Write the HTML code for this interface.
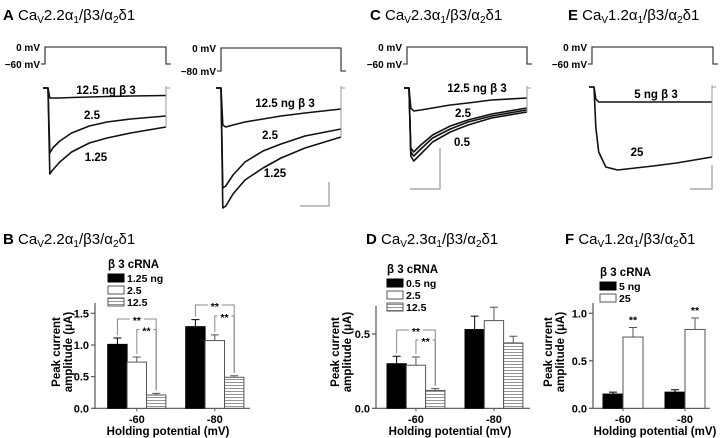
<!DOCTYPE html>
<html><head><meta charset="utf-8"><style>
html,body{margin:0;padding:0;background:#fff;}
svg{display:block;font-family:"Liberation Sans",Arial,sans-serif;}
.t{font-size:15px;fill:#000;}
.b{font-weight:bold;}
</style></head><body>
<svg id="fig" width="720" height="438" viewBox="0 0 720 438" xmlns="http://www.w3.org/2000/svg">
<defs>
<pattern id="stripes" width="4" height="3" patternUnits="userSpaceOnUse">
<rect width="4" height="3" fill="#fff"/><line x1="0" y1="1.5" x2="4" y2="1.5" stroke="#888" stroke-width="0.9"/>
</pattern>
</defs>
<text class="t" x="3" y="20"><tspan class="b">A</tspan>  Ca<tspan font-size="10" dy="3">V</tspan><tspan dy="-3">2.2α</tspan><tspan font-size="10" dy="3">1</tspan><tspan dy="-3">/β3/α</tspan><tspan font-size="10" dy="3">2</tspan><tspan dy="-3">δ1</tspan></text>
<text class="t" x="370" y="20"><tspan class="b">C</tspan>  Ca<tspan font-size="10" dy="3">V</tspan><tspan dy="-3">2.3α</tspan><tspan font-size="10" dy="3">1</tspan><tspan dy="-3">/β3/α</tspan><tspan font-size="10" dy="3">2</tspan><tspan dy="-3">δ1</tspan></text>
<text class="t" x="568" y="20"><tspan class="b">E</tspan>  Ca<tspan font-size="10" dy="3">V</tspan><tspan dy="-3">1.2α</tspan><tspan font-size="10" dy="3">1</tspan><tspan dy="-3">/β3/α</tspan><tspan font-size="10" dy="3">2</tspan><tspan dy="-3">δ1</tspan></text>
<text class="t" x="3" y="244"><tspan class="b">B</tspan>  Ca<tspan font-size="10" dy="3">V</tspan><tspan dy="-3">2.2α</tspan><tspan font-size="10" dy="3">1</tspan><tspan dy="-3">/β3/α</tspan><tspan font-size="10" dy="3">2</tspan><tspan dy="-3">δ1</tspan></text>
<text class="t" x="366" y="244"><tspan class="b">D</tspan>  Ca<tspan font-size="10" dy="3">V</tspan><tspan dy="-3">2.3α</tspan><tspan font-size="10" dy="3">1</tspan><tspan dy="-3">/β3/α</tspan><tspan font-size="10" dy="3">2</tspan><tspan dy="-3">δ1</tspan></text>
<text class="t" x="565" y="244"><tspan class="b">F</tspan>  Ca<tspan font-size="10" dy="3">V</tspan><tspan dy="-3">1.2α</tspan><tspan font-size="10" dy="3">1</tspan><tspan dy="-3">/β3/α</tspan><tspan font-size="10" dy="3">2</tspan><tspan dy="-3">δ1</tspan></text>
<g id="dyn"></g>
</svg>
<script>
// ---- Trace data (current amplitude below baseline, arbitrary units) ----
var traceTimes = [0, 0.015, 0.04, 0.1, 0.2, 0.35, 0.5, 0.7, 1];
var a1_12_5 = [0, 10, 10, 10, 9.5, 9, 8.5, 8, 7.5];
var a1_2_5 = [0, 65, 60, 53, 45, 38, 34, 31, 28];
var a1_1_25 = [0, 86, 82, 74, 64, 55, 50, 45, 39];
var a2_12_5 = [0, 37, 39, 37, 34, 31, 28, 25, 21];
var a2_2_5 = [0, 100, 98, 87, 74, 63, 56, 48, 41];
var a2_1_25 = [0, 120, 118, 106, 92, 80, 70, 60, 49];
var c_12_5 = [0, 20, 23, 22, 20, 17, 15, 12, 10];
var c_2_5 = [0, 60, 64, 57, 47, 38, 32, 26, 20];
var c_mid = [0, 64, 68, 61, 50, 41, 34, 28, 22];
var c_0_5 = [0, 68, 73, 66, 54, 44, 37, 30, 24];
var e_5 = [0, 12, 15, 15, 15, 15, 15, 15, 15];
var e_25 = [0, 40, 65, 80, 83, 81, 79, 76, 70];

// ---- Bar data ----
var groupLabels = ['-60', '-80'];
var bTicks = [0, 0.5, 1.0, 1.5];
var bS1 = [1.01, 1.29], bE1 = [0.10, 0.11];
var bS2 = [0.73, 1.07], bE2 = [0.08, 0.09];
var bS3 = [0.21, 0.49], bE3 = [0.025, 0.025];
var bLegend = ['1.25 ng', '2.5', '12.5'];
var dTicks = [0, 0.5];
var dS1 = [0.30, 0.53], dE1 = [0.05, 0.09];
var dS2 = [0.29, 0.59], dE2 = [0.055, 0.09];
var dS3 = [0.12, 0.44], dE3 = [0.012, 0.045];
var dLegend = ['0.5 ng', '2.5', '12.5'];
var fTicks = [0, 0.5, 1.0];
var fS1 = [0.15, 0.17], fE1 = [0.02, 0.025];
var fS2 = [0.75, 0.83], fE2 = [0.10, 0.12];
var fLegend = ['  5 ng', '25'];

var NS = 'http://www.w3.org/2000/svg';
var root = document.getElementById('dyn');
function mk(tag, attrs, parent) {
  var el = document.createElementNS(NS, tag);
  for (var k in attrs) el.setAttribute(k, attrs[k]);
  (parent || root).appendChild(el);
  return el;
}
function txt(s, x, y, size, anchor, bold, parent) {
  var t = mk('text', {x: x, y: y, 'font-size': size, 'text-anchor': anchor || 'start', 'font-weight': bold ? 'bold' : 'normal', 'xml:space': 'preserve'}, parent);
  t.textContent = s;
  return t;
}

function protocol(name, x0, x1, yTop, yBot, lowLabel) {
  var g = mk('g', {});
  
  
  mk('path', {d: 'M' + (x0 - 4) + ' ' + yBot + 'H' + x0 + 'V' + yTop + 'H' + x1 + 'V' + yBot + 'H' + (x1 + 5), fill: 'none', stroke: '#444', 'stroke-width': 1.3}, g);
  txt('0 mV', x0 - 5, yTop + 4, 10, 'end', true, g);
  txt(lowLabel, x0 - 5, yBot + 4, 10, 'end', true, g);
}
protocol('voltage-protocol-a1', 45, 166, 47, 64, '\u221260 mV');
protocol('voltage-protocol-a2', 221, 341, 48, 71, '\u221280 mV');
protocol('voltage-protocol-c', 407, 527, 47, 64, '\u221260 mV');
protocol('voltage-protocol-e', 592, 713, 47, 64, '\u221260 mV');

function trace(name, vals, x0, x1, base) {
  var g = mk('g', {});
  
  
  var d = 'M' + (x0 - 5) + ' ' + base + 'H' + x0;
  for (var i = 0; i < vals.length; i++) {
    d += 'L' + (x0 + traceTimes[i] * (x1 - x0)).toFixed(1) + ' ' + (base + vals[i]).toFixed(1);
  }
  mk('path', {d: d, fill: 'none', stroke: '#111', 'stroke-width': 1.6, 'stroke-linejoin': 'round'}, g);
  mk('path', {d: 'M' + x1 + ' ' + (base + vals[vals.length - 1]) + 'V' + (base - 2) + 'M' + x1 + ' ' + base + 'H' + (x1 + 4), fill: 'none', stroke: '#999', 'stroke-width': 1}, g);
}
trace('trace-a1-12.5ng', a1_12_5, 48, 166, 88);
trace('trace-a1-2.5ng', a1_2_5, 48, 166, 88);
trace('trace-a1-1.25ng', a1_1_25, 48, 166, 88);
trace('trace-a2-12.5ng', a2_12_5, 221, 341, 88);
trace('trace-a2-2.5ng', a2_2_5, 221, 341, 88);
trace('trace-a2-1.25ng', a2_1_25, 221, 341, 88);
trace('trace-c-12.5ng', c_12_5, 409, 527, 88);
trace('trace-c-2.5ng', c_2_5, 409, 527, 88);
trace('trace-c-mid', c_mid, 409, 527, 88);
trace('trace-c-0.5ng', c_0_5, 409, 527, 88);
trace('trace-e-5ng', e_5, 594, 712, 87);
trace('trace-e-25ng', e_25, 594, 712, 87);

function label(name, s, x, y) {
  var t = txt(s, x, y, 11.5, 'middle', true);
  
  
}
label('label-a1-12.5', '12.5 ng \u03b2 3', 106, 94);
label('label-a1-2.5', '2.5', 92, 119);
label('label-a1-1.25', '1.25', 96, 161);
label('label-a2-12.5', '12.5 ng \u03b2 3', 285, 107);
label('label-a2-2.5', '2.5', 270, 139);
label('label-a2-1.25', '1.25', 275, 177);
label('label-c-12.5', '12.5 ng \u03b2 3', 477, 92);
label('label-c-2.5', '2.5', 463, 117);
label('label-c-0.5', '0.5', 462, 146);
label('label-e-5', '5 ng \u03b2 3', 656, 98);
label('label-e-25', '25', 637, 156);

function scalebar(name, x, yTop, yBot, xLeft) {
  var p = mk('path', {d: 'M' + x + ' ' + yTop + 'V' + yBot + 'H' + xLeft, fill: 'none', stroke: '#999', 'stroke-width': 1.2});
  
  
}
scalebar('scale-bar-a', 329, 182, 206, 300);
scalebar('scale-bar-c', 440, 148, 189, 410);
scalebar('scale-bar-e', 712, 165, 189, 690);

var fills = ['#000', '#fff', 'url(#stripes)'];
function barChart(cfg) {
  var g = mk('g', {});
  
  
  function y(v) { return cfg.y0 - v * cfg.ppu; }
  mk('path', {d: 'M' + cfg.ax + ' ' + cfg.top + 'V' + cfg.y0 + 'H' + cfg.axEnd, fill: 'none', stroke: '#555', 'stroke-width': 1.2}, g);
  cfg.ticks.forEach(function (tv) {
    mk('line', {x1: cfg.ax - 4, x2: cfg.ax, y1: y(tv), y2: y(tv), stroke: '#555', 'stroke-width': 1.2}, g);
    var t = txt(tv.toFixed(1), cfg.ax - 6, y(tv) + 4, 11, 'end', true, g);
    
    
  });
  var tops = [];
  cfg.series.forEach(function (s, si) {
    tops.push([]);
    for (var gi = 0; gi < s.length; gi++) {
      var x = cfg.groupX[gi] + si * cfg.bw;
      var top = y(s[gi]);
      var r = mk('rect', {x: x, y: top, width: cfg.bw, height: cfg.y0 - top, fill: fills[si], stroke: si === 0 ? '#000' : '#555', 'stroke-width': 1}, g);
      
      
      var et = y(s[gi] + cfg.errs[si][gi]);
      var cx = x + cfg.bw / 2;
      mk('path', {d: 'M' + cx + ' ' + top + 'V' + et + 'M' + (cx - 4) + ' ' + et + 'H' + (cx + 4), fill: 'none', stroke: si === 0 ? '#000' : '#555', 'stroke-width': 1}, g);
      tops[si].push(et);
    }
  });
  groupLabels.forEach(function (lab, gi) {
    var cx = cfg.groupX[gi] + cfg.bw * cfg.series.length / 2;
    mk('line', {x1: cx, x2: cx, y1: cfg.y0, y2: cfg.y0 + 3, stroke: '#555'}, g);
    var t = txt(lab, cx, 423, 11, 'middle', true, g);
    
    
  });
  var xt = txt('Holding potential (mV)', cfg.xTitleX, 435, 11.5, 'middle', true, g);
  
  
  var yt = mk('text', {transform: 'translate(' + cfg.yTitleX + ',' + cfg.yTitleY + ') rotate(-90)', 'font-size': 11.5, 'font-weight': 'bold', 'text-anchor': 'middle'}, g);
  
  
  var t1 = mk('tspan', {x: 0, y: 0}, yt); t1.textContent = 'Peak current';
  var t2 = mk('tspan', {x: 0, y: 12}, yt); t2.textContent = 'amplitude (\u03bcA)';
  var lg = mk('g', {}, g);
  
  
  txt('\u03b2 3 cRNA', cfg.legX, cfg.legY, 11.5, 'start', true, lg);
  cfg.legend.forEach(function (s, i) {
    var yy = cfg.legY + 6 + i * 12;
    var e = mk('g', {}, lg);
    
    
    mk('rect', {x: cfg.legX, y: yy, width: 16, height: 8, fill: fills[i], stroke: i === 0 ? '#000' : '#555', 'stroke-width': 1}, e);
    txt(s, cfg.legX + 19, yy + 8, 10.5, 'start', true, e);
  });
  (cfg.brackets || []).forEach(function (br) {
    var gi = br[0], sa = br[1], sb = br[2], by = br[3];
    var xa = cfg.groupX[gi] + (sa + 0.5) * cfg.bw, xb = cfg.groupX[gi] + (sb + 0.5) * cfg.bw;
    var p = mk('path', {d: 'M' + xa + ' ' + (tops[sa][gi] - 3) + 'V' + by + 'H' + xb + 'V' + (tops[sb][gi] - 3), fill: 'none', stroke: '#888', 'stroke-width': 1}, g);
    
    
    mk('rect', {x: (xa + xb) / 2 - 7, y: by - 2, width: 14, height: 4, fill: '#fff'}, g);
    txt('**', (xa + xb) / 2, by + 5, 10.5, 'middle', true, g);
  });
  (cfg.stars || []).forEach(function (st) {
    var cx = cfg.groupX[st[0]] + (st[1] + 0.5) * cfg.bw;
    txt('**', cx, tops[st[1]][st[0]] - 4, 10.5, 'middle', true, g);
  });
}
barChart({name: 'chart-b', ax: 95, axEnd: 250, top: 303, y0: 408.3, ppu: 63.3, ticks: bTicks,
  series: [bS1, bS2, bS3], errs: [bE1, bE2, bE3], groupX: [107.7, 185.7], bw: 19.4,
  legend: bLegend, legX: 108, legY: 268, xTitleX: 168, yTitleX: 60, yTitleY: 352,
  brackets: [[0, 0, 2, 319], [0, 1, 2, 329.5], [1, 0, 2, 305], [1, 1, 2, 316]]});
barChart({name: 'chart-d', ax: 376, axEnd: 530, top: 306, y0: 408.3, ppu: 148.6, ticks: dTicks,
  series: [dS1, dS2, dS3], errs: [dE1, dE2, dE3], groupX: [387, 465], bw: 19.3,
  legend: dLegend, legX: 387, legY: 273, xTitleX: 450, yTitleX: 339, yTitleY: 352,
  brackets: [[0, 0, 2, 330], [0, 1, 2, 340]]});
barChart({name: 'chart-f', ax: 593, axEnd: 710, top: 303, y0: 408.3, ppu: 95, ticks: fTicks,
  series: [fS1, fS2], errs: [fE1, fE2], groupX: [603, 665], bw: 20,
  legend: fLegend, legX: 600, legY: 276, xTitleX: 655, yTitleX: 552, yTitleY: 352,
  stars: [[0, 1], [1, 1]]});
</script>
</body></html>
